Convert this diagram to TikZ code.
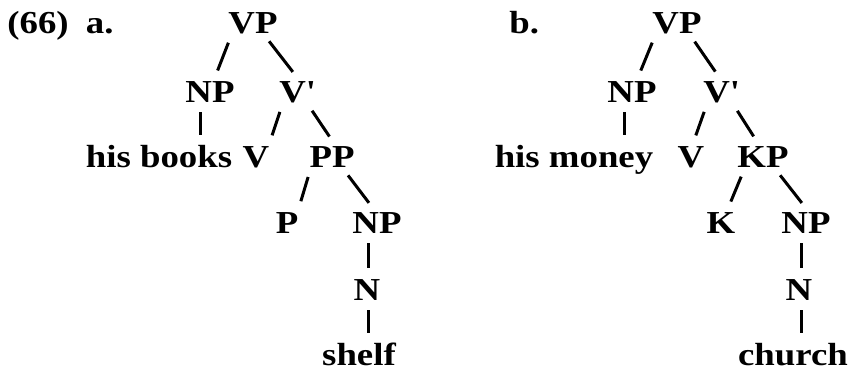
\documentclass[tikz,border=0pt]{standalone}
\usepackage{fontspec}
\setmainfont{Liberation Serif}[FakeStretch=1.15]
\usetikzlibrary{calc}
\begin{document}
\begin{tikzpicture}[x=0.5pt,y=-0.5pt,
	every node/.style={inner sep=0pt,anchor=base,text height=10.9pt,text depth=0pt,
		font=\fontsize{16}{19}\selectfont\bfseries},
	branch/.style={line width=1.5pt,shorten <=5pt,shorten >=5pt}]
	\useasboundingbox (0,0) rectangle (848,371);
	%Cay a
	\node[anchor=base west] (laba) at (7,33) {(66)\hspace{4pt} a.};
	\node (vpa) at (253,33) {VP};
	\node (npa) at (210,102) {NP};
	\node (vba) at (297,102) {V\textquotesingle};
	\node (hisb) at (159,167) {his books};
	\node (va) at (256,167) {V};
	\node (ppa) at (332,167) {PP};
	\node (pa) at (287,233) {P};
	\node (npb) at (377,233) {NP};
	\node (na) at (367,300) {N};
	\node (shelf) at (359,365) {shelf};
	%Nhanh a
	\draw[branch] ($(vpa.south)+(-21,0)$) -- ($(npa.north)+(4,0)$);
	\draw[branch] ($(vpa.south)+(10,0)$) -- ($(vba.north)+(2,0)$);
	\draw[branch] ($(npa.south)+(-10,0)$) -- ($(npa.south |- hisb.north)+(-10,0)$);
	\draw[branch] ($(vba.south)+(-14,0)$) -- ($(va.north)+(13,0)$);
	\draw[branch] ($(vba.south)+(9.5,0)$) -- ($(ppa.north)+(3,0)$);
	\draw[branch] ($(ppa.south)+(-21,0)$) -- ($(pa.north)+(11,0)$);
	\draw[branch] ($(ppa.south)+(10,0)$) -- ($(npb.north)+(-2,0)$);
	\draw[branch] ($(npb.south)+(-9,0)$) -- ($(npb.south |- na.north)+(-9,0)$);
	\draw[branch] ($(na.south)+(1,0)$) -- ($(na.south |- shelf.north)+(1,0)$);
	%Cay b
	\node[anchor=base west] (labb) at (509,33) {b.};
	\node (vpb) at (677,33) {VP};
	\node (npc) at (632,102) {NP};
	\node (vbb) at (721,102) {V\textquotesingle};
	\node (hism) at (574,167) {his money};
	\node (vb) at (691,167) {V};
	\node (kp) at (763,167) {KP};
	\node (k) at (721,233) {K};
	\node (npd) at (806,233) {NP};
	\node (nb) at (799,300) {N};
	\node (church) at (793,365) {church};
	%Nhanh b
	\draw[branch] ($(vpb.south)+(-21,0)$) -- ($(npc.north)+(5,0)$);
	\draw[branch] ($(vpb.south)+(12,0)$) -- (vbb.north);
	\draw[branch] ($(npc.south)+(-8,0)$) -- ($(npc.south |- hism.north)+(-8,0)$);
	\draw[branch] ($(vbb.south)+(-13.5,0)$) -- ($(vb.north)+(1.5,0)$);
	\draw[branch] ($(vbb.south)+(11,0)$) -- ($(kp.north)+(-4,0)$);
	\draw[branch] ($(kp.south)+(-18,0)$) -- ($(k.north)+(6,0)$);
	\draw[branch] ($(kp.south)+(11,0)$) -- ($(npd.north)+(2,0)$);
	\draw[branch] ($(npd.south)+(-5,0)$) -- ($(npd.south |- nb.north)+(-5,0)$);
	\draw[branch] ($(nb.south)+(2,0)$) -- ($(nb.south |- church.north)+(2,0)$);
\end{tikzpicture}
\end{document}
